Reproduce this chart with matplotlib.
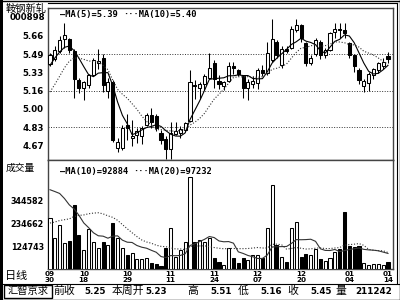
import matplotlib
matplotlib.use('Agg')
import matplotlib.pyplot as plt
import numpy as np
from matplotlib.lines import Line2D
from matplotlib.patches import Rectangle

plt.rcParams['font.family'] = ['DejaVu Sans']
CJK = ['Noto Sans CJK SC', 'DejaVu Sans']

# ---------------- data ----------------
stock_name = '鞍钢新轧'
stock_code = '000898'
period_label = '日线'
volume_title = '成交量'

date_months = ['09', '10', '10', '11', '11', '12', '12', '01', '01']
date_days = ['30', '18', '29', '11', '24', '07', '20', '04', '14']
date_label_idx = [0, 7, 16, 25, 34, 43, 52, 62, 70]

opens = [5.40, 5.45, 5.52, 5.63, 5.63, 5.52, 5.26, 5.19, 5.21, 5.30,
         5.41, 5.46, 5.16, 5.24, 4.65, 4.65, 4.85, 4.74, 4.76, 4.75,
         4.85, 4.94, 4.93, 4.78, 4.73, 4.64, 4.77, 4.78, 4.81, 4.89,
         5.21, 5.19, 5.22, 5.28, 5.41, 5.25, 5.20, 5.25, 5.38, 5.35,
         5.29, 5.19, 5.22, 5.23, 5.35, 5.32, 5.44, 5.60, 5.39, 5.54,
         5.55, 5.71, 5.75, 5.59, 5.41, 5.49, 5.60, 5.48, 5.53, 5.69,
         5.72, 5.71, 5.59, 5.48, 5.35, 5.20, 5.23, 5.30, 5.35, 5.38,
         5.47]
highs = [5.50, 5.56, 5.65, 5.77, 5.64, 5.54, 5.28, 5.25, 5.31, 5.46,
         5.54, 5.49, 5.28, 5.26, 4.74, 4.85, 4.95, 4.90, 4.83, 4.84,
         4.96, 5.01, 4.95, 4.81, 4.75, 4.88, 4.88, 4.84, 4.88, 5.35,
         5.26, 5.24, 5.31, 5.50, 5.44, 5.30, 5.25, 5.42, 5.42, 5.36,
         5.30, 5.27, 5.29, 5.37, 5.39, 5.60, 5.81, 5.62, 5.56, 5.56,
         5.74, 5.81, 5.76, 5.60, 5.48, 5.64, 5.62, 5.55, 5.69, 5.77,
         5.77, 5.77, 5.60, 5.49, 5.37, 5.27, 5.33, 5.37, 5.42, 5.46,
         5.51]
lows = [5.38, 5.43, 5.50, 5.55, 5.50, 5.10, 5.14, 5.08, 5.19, 5.29,
        5.36, 5.15, 5.10, 4.70, 4.61, 4.63, 4.72, 4.66, 4.69, 4.68,
        4.84, 4.83, 4.80, 4.68, 4.55, 4.55, 4.76, 4.74, 4.80, 4.88,
        5.09, 5.09, 5.17, 5.27, 5.19, 5.18, 5.17, 5.24, 5.31, 5.29,
        5.10, 5.08, 5.19, 5.18, 5.29, 5.30, 5.42, 5.46, 5.37, 5.50,
        5.54, 5.69, 5.60, 5.38, 5.39, 5.47, 5.45, 5.46, 5.52, 5.64,
        5.64, 5.64, 5.46, 5.33, 5.22, 5.15, 5.16, 5.27, 5.32, 5.36,
        5.41]
closes = [5.48, 5.53, 5.62, 5.66, 5.53, 5.27, 5.19, 5.24, 5.30, 5.44,
          5.43, 5.21, 5.24, 4.72, 4.70, 4.83, 4.83, 4.75, 4.80, 4.83,
          4.94, 4.88, 4.83, 4.72, 4.64, 4.78, 4.80, 4.82, 4.87, 5.24,
          5.20, 5.22, 5.29, 5.37, 5.27, 5.22, 5.24, 5.38, 5.37, 5.31,
          5.19, 5.24, 5.25, 5.35, 5.32, 5.50, 5.63, 5.48, 5.54, 5.52,
          5.72, 5.75, 5.64, 5.41, 5.46, 5.62, 5.48, 5.53, 5.68, 5.72,
          5.71, 5.68, 5.48, 5.38, 5.26, 5.25, 5.31, 5.36, 5.41, 5.42,
          5.45]
volumes = [261000, 165000, 228000, 140000, 150000, 323000, 180000, 108000, 208000, 146000,
           118000, 146000, 132000, 237000, 165000, 118000, 84000, 94000, 65000, 65000,
           70000, 46000, 41000, 32000, 118000, 213000, 75000, 108000, 146000, 457000,
           146000, 156000, 146000, 165000, 70000, 51000, 36000, 118000, 70000, 46000,
           70000, 60000, 84000, 84000, 70000, 213000, 419000, 132000, 75000, 51000,
           213000, 243000, 78000, 91000, 87000, 113000, 65000, 56000, 70000, 100000,
           113000, 290000, 130000, 125000, 126000, 46600, 40000, 42000, 41000, 38000,
           50242]
# history before the first visible bar (feeds the moving averages)
prior_closes = [4.85, 4.88, 4.90, 4.94, 4.98, 5.20, 5.35, 5.45, 5.47]
prior_volumes = [70000, 85000, 60000, 75000, 90000, 80000, 65000, 95000, 85000, 85000,
                 250000, 320000, 380000, 450000, 520000, 480000, 470000, 430000, 389000]

price_ticks = [5.655, 5.49, 5.326, 5.161, 4.997, 4.832, 4.668]
price_tick_labels = ['5.66', '5.49', '5.33', '5.16', '5.00', '4.83', '4.67']
price_grid = [5.49, 5.161, 4.832]
vol_ticks = [344582, 234662, 124743]
vol_tick_labels = ['344582', '234662', '124743']

price_legend = ['—MA(5)=5.39', '···MA(10)=5.40']
vol_legend = ['—MA(10)=92884', '···MA(20)=97232']

info_box = '汇智京求'
info_names = ['前收', '本周开', '高', '低', '收', '量']
info_values = ['5.25', '5.23', '5.51', '5.16', '5.45', '211242']

# ---------------- figure ----------------
W, H = 400, 300
fig = plt.figure(figsize=(4, 3), dpi=100)
fig.patch.set_facecolor('white')

def fx(x):
    return x / W

def fy(y):
    return 1 - y / H

LEFT, RIGHT = 48, 393
ax1 = fig.add_axes([fx(LEFT), fy(160), (RIGHT - LEFT) / W, 152 / H])
ax2 = fig.add_axes([fx(LEFT), fy(269), (RIGHT - LEFT) / W, 109 / H])

n = len(closes)
x = np.arange(n)
o = np.array(opens); c = np.array(closes); h = np.array(highs); l = np.array(lows)
v = np.array(volumes)
up = c >= o

def rolling(arr, k):
    return np.convolve(arr, np.ones(k) / k, mode='valid')

all_c = np.concatenate([prior_closes, closes])
ma5 = rolling(all_c, 5)[-n:]
ma10 = rolling(all_c, 10)[-n:]
all_v = np.concatenate([prior_volumes, volumes])
vma10 = rolling(all_v, 10)[-n:]
vma20 = rolling(all_v, 20)[-n:]

xl = (-0.41, 71.04)
bw = 0.64
lw1 = 0.75
dot = (0, (1, 1.6))

# price panel
ax1.set_xlim(*xl)
ax1.set_ylim(4.538, 5.906)
for gy in price_grid:
    ax1.axhline(gy, color='#333333', lw=0.7, ls=dot, zorder=1)
ax1.vlines(x, l, h, color='black', lw=lw1, zorder=2)
body_h = np.maximum(np.abs(c - o), 0.006)
body_b = np.minimum(o, c)
ax1.bar(x[up], body_h[up], bottom=body_b[up], width=bw, facecolor='white',
        edgecolor='black', linewidth=lw1, zorder=3)
ax1.bar(x[~up], body_h[~up], bottom=body_b[~up], width=bw, facecolor='black',
        edgecolor='black', linewidth=lw1, zorder=3)
ax1.plot(x, ma5, color='black', lw=0.8, zorder=4)
ax1.plot(x, ma10, color='#333333', lw=0.8, ls=dot, zorder=4)
ax1.set_xticks([])
ax1.set_yticks(price_ticks, price_tick_labels)
ax1.tick_params(axis='y', length=0, pad=3, labelsize=6.2)
for t in ax1.get_yticklabels():
    t.set_fontweight('bold')

# volume panel
ax2.set_xlim(*xl)
ax2.set_ylim(19000, 536000)
ax2.bar(x[up], v[up], width=bw, facecolor='white', edgecolor='black', linewidth=lw1, zorder=3)
ax2.bar(x[~up], v[~up], width=bw, facecolor='black', edgecolor='black', linewidth=lw1, zorder=3)
ax2.plot(x, vma10, color='#333333', lw=0.8, zorder=4)
ax2.plot(x, vma20, color='#333333', lw=0.8, ls=dot, zorder=4)
ax2.set_yticks(vol_ticks, vol_tick_labels)
ax2.tick_params(axis='y', length=0, pad=3, labelsize=5.8)
for t in ax2.get_yticklabels():
    t.set_fontweight('bold')
ax2.set_xticks([])

# date labels (two rows under the volume panel)
xt = ax2.get_xaxis_transform()
for idx, mm, dd in zip(date_label_idx, date_months, date_days):
    ax2.text(idx, -(274.5 - 269) / 109, mm, transform=xt, ha='center', va='center',
             fontsize=5.2, fontweight='bold', clip_on=False)
    ax2.text(idx, -(280.5 - 269) / 109, dd, transform=xt, ha='center', va='center',
             fontsize=5.2, fontweight='bold', clip_on=False)

for ax in (ax1, ax2):
    for s in ax.spines.values():
        s.set_color('#444444')
        s.set_linewidth(1.0)

# legends
leg_kw = dict(family='DejaVu Sans Mono', fontweight='bold', fontsize=6.3, va='center', ha='left')
ax1.text((60 - LEFT) / (RIGHT - LEFT), 1 - 6 / 152, price_legend[0], transform=ax1.transAxes, **leg_kw)
ax1.text((123 - LEFT) / (RIGHT - LEFT), 1 - 6 / 152, price_legend[1], transform=ax1.transAxes, **leg_kw)
ax2.text((60 - LEFT) / (RIGHT - LEFT), 1 - 12 / 109, vol_legend[0], transform=ax2.transAxes, **leg_kw)
ax2.text((133 - LEFT) / (RIGHT - LEFT), 1 - 12 / 109, vol_legend[1], transform=ax2.transAxes, **leg_kw)

# left column texts
fig.text(fx(6), fy(8.5), stock_name, family=CJK, fontsize=7.4, va='center', ha='left')
fig.text(fx(45), fy(18), stock_code, fontsize=6.2, fontweight='bold', va='center', ha='right')
fig.text(fx(6), fy(167.5), volume_title, family=CJK, fontsize=7, va='center', ha='left')
fig.text(fx(5), fy(276.5), period_label, family=CJK, fontsize=8, va='center', ha='left')

# frame decorations
def fline(x0, y0, x1, y1, lw=1.0, color='black'):
    fig.add_artist(Line2D([fx(x0), fx(x1)], [fy(y0), fy(y1)], color=color, lw=lw))

fig.add_artist(Rectangle((0, 0), fx(3), 1, color='black', lw=0, transform=fig.transFigure))
fline(0, 0.5, 400, 0.5)
fline(0, 299.5, 400, 299.5)
fline(399.5, 0, 399.5, 300)
fline(48, 2.5, 397, 2.5, lw=0.8)
fline(396.5, 2.5, 396.5, 283, lw=0.8)
fline(3, 283.5, 400, 283.5, lw=0.8)
fig.add_artist(Rectangle((fx(4), fy(298)), fx(48), 13.5 / H, fill=False, edgecolor='black',
                         lw=1.0, transform=fig.transFigure))

# info row
fig.text(fx(28), fy(291), info_box, family=CJK, fontsize=7.4, va='center', ha='center')
name_x = [53, 112, 187, 238, 287, 336]
val_right = [106, 167, 232, 282, 332, 392]
for nm, nx_, val, vr in zip(info_names, name_x, info_values, val_right):
    fig.text(fx(nx_), fy(291), nm, family=CJK, fontsize=7.8, va='center', ha='left')
    fig.text(fx(vr), fy(291), val, fontsize=6.3, fontweight='bold', va='center', ha='right')

fig.savefig('out.png', dpi=100, facecolor='white')
